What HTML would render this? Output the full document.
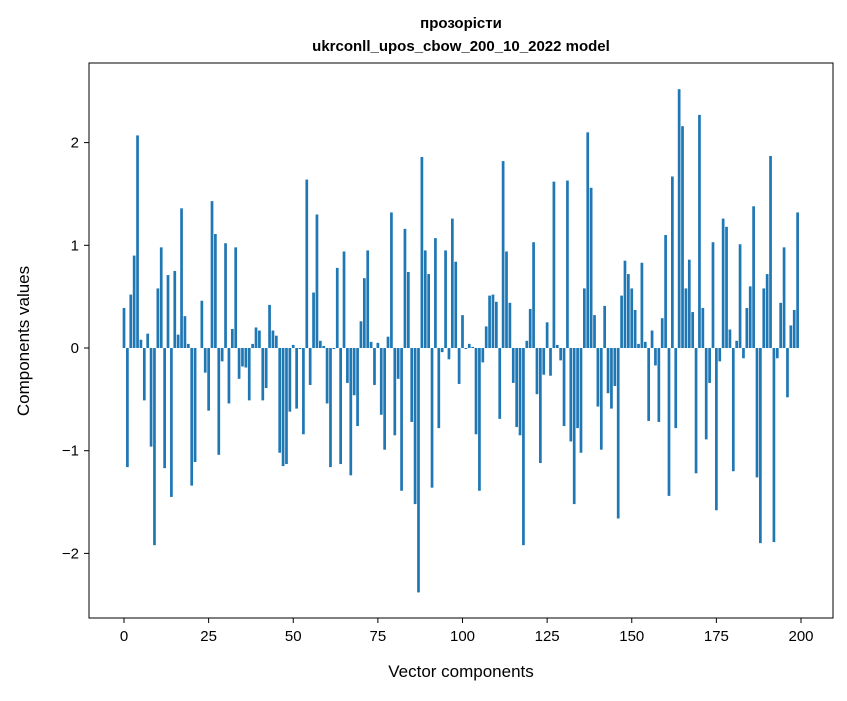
<!DOCTYPE html>
<html><head><meta charset="utf-8"><style>
body{margin:0;background:#fff}
text{font-family:"Liberation Sans","DejaVu Sans",sans-serif;fill:#000}
</style></head><body>
<svg id="chart" width="847" height="696" xmlns="http://www.w3.org/2000/svg">
<text x="461" y="28" font-size="15" font-weight="bold" text-anchor="middle">прозорісти</text>
<text x="461" y="51" font-size="15" font-weight="bold" text-anchor="middle">ukrconll_upos_cbow_200_10_2022 model</text>
<g id="bars"></g>
<rect x="89" y="63" width="744" height="555" fill="none" stroke="#000" stroke-width="1"/>
<g id="xticks"></g>
<g id="yticks"></g>
<text x="461" y="677" font-size="17" text-anchor="middle">Vector components</text>
<text transform="translate(29,341) rotate(-90)" font-size="17" text-anchor="middle">Components values</text>
</svg>
<script>
const values = [0.39,-1.16,0.52,0.90,2.07,0.08,-0.51,0.14,-0.96,-1.92,0.58,0.98,-1.17,0.71,-1.45,0.75,0.13,1.36,0.31,0.04,
-1.34,-1.11,0,0.46,-0.24,-0.61,1.43,1.11,-1.04,-0.13,1.02,-0.54,0.185,0.98,-0.30,-0.18,-0.19,-0.51,0.04,0.2,
0.17,-0.51,-0.39,0.42,0.17,0.12,-1.02,-1.15,-1.13,-0.62,0.03,-0.59,-0.01,-0.84,1.64,-0.36,0.54,1.30,0.07,0.02,
-0.54,-1.16,-0.01,0.78,-1.13,0.94,-0.34,-1.24,-0.46,-0.76,0.26,0.68,0.95,0.06,-0.36,0.05,-0.65,-0.99,0.11,1.32,
-0.85,-0.30,-1.39,1.16,0.74,-0.72,-1.52,-2.38,1.86,0.95,0.72,-1.36,1.07,-0.78,-0.04,0.95,-0.11,1.26,0.84,-0.35,
0.32,-0.01,0.04,0.01,-0.84,-1.39,-0.14,0.21,0.51,0.52,0.45,-0.69,1.82,0.94,0.44,-0.34,-0.77,-0.85,-1.92,0.07,
0.38,1.03,-0.45,-1.12,-0.26,0.25,-0.27,1.62,0.03,-0.12,-0.76,1.63,-0.91,-1.52,-0.78,-1.02,0.58,2.10,1.56,0.32,
-0.57,-0.99,0.41,-0.44,-0.59,-0.37,-1.66,0.51,0.85,0.72,0.58,0.37,0.04,0.83,0.06,-0.71,0.17,-0.17,-0.72,0.29,
1.10,-1.44,1.67,-0.78,2.52,2.16,0.58,0.86,0.35,-1.22,2.27,0.39,-0.89,-0.34,1.03,-1.58,-0.13,1.26,1.18,0.18,
-1.20,0.07,1.01,-0.10,0.39,0.60,1.38,-1.26,-1.90,0.58,0.72,1.87,-1.89,-0.10,0.44,0.98,-0.48,0.22,0.37,1.32];
const xTicks = [0,25,50,75,100,125,150,175,200];
const yTicks = [-2,-1,0,1,2];
const yTickLabels = ["\u22122","\u22121","0","1","2"];
const NS="http://www.w3.org/2000/svg";
const xs = v => 124 + v*3.385;
const ys = v => 348 - v*102.7;
const bars=document.getElementById('bars');
values.forEach((v,i)=>{
  const r=document.createElementNS(NS,'rect');
  
  
  const y0=ys(0), y1=ys(v);
  r.setAttribute('x',xs(i-0.4));
  r.setAttribute('width',3.385*0.8);
  r.setAttribute('y',Math.min(y0,y1));
  r.setAttribute('height',Math.abs(y1-y0));
  r.setAttribute('fill','#1f77b4');
  bars.appendChild(r);
});
const xg=document.getElementById('xticks');
xTicks.forEach(t=>{
  const l=document.createElementNS(NS,'line');
  
  
  l.setAttribute('x1',xs(t));l.setAttribute('x2',xs(t));
  l.setAttribute('y1',618);l.setAttribute('y2',623);
  l.setAttribute('stroke','#000');
  xg.appendChild(l);
  const tx=document.createElementNS(NS,'text');
  
  
  tx.setAttribute('x',xs(t));tx.setAttribute('y',641);
  tx.setAttribute('font-size','15');tx.setAttribute('text-anchor','middle');
  tx.textContent=t;
  xg.appendChild(tx);
});
const yg=document.getElementById('yticks');
yTicks.forEach((t,i)=>{
  const l=document.createElementNS(NS,'line');
  
  
  l.setAttribute('x1',84);l.setAttribute('x2',89);
  l.setAttribute('y1',ys(t));l.setAttribute('y2',ys(t));
  l.setAttribute('stroke','#000');
  yg.appendChild(l);
  const tx=document.createElementNS(NS,'text');
  
  
  tx.setAttribute('x',79);tx.setAttribute('y',ys(t)+5);
  tx.setAttribute('font-size','15');tx.setAttribute('text-anchor','end');
  tx.textContent=yTickLabels[i];
  yg.appendChild(tx);
});
</script>
</body></html>
